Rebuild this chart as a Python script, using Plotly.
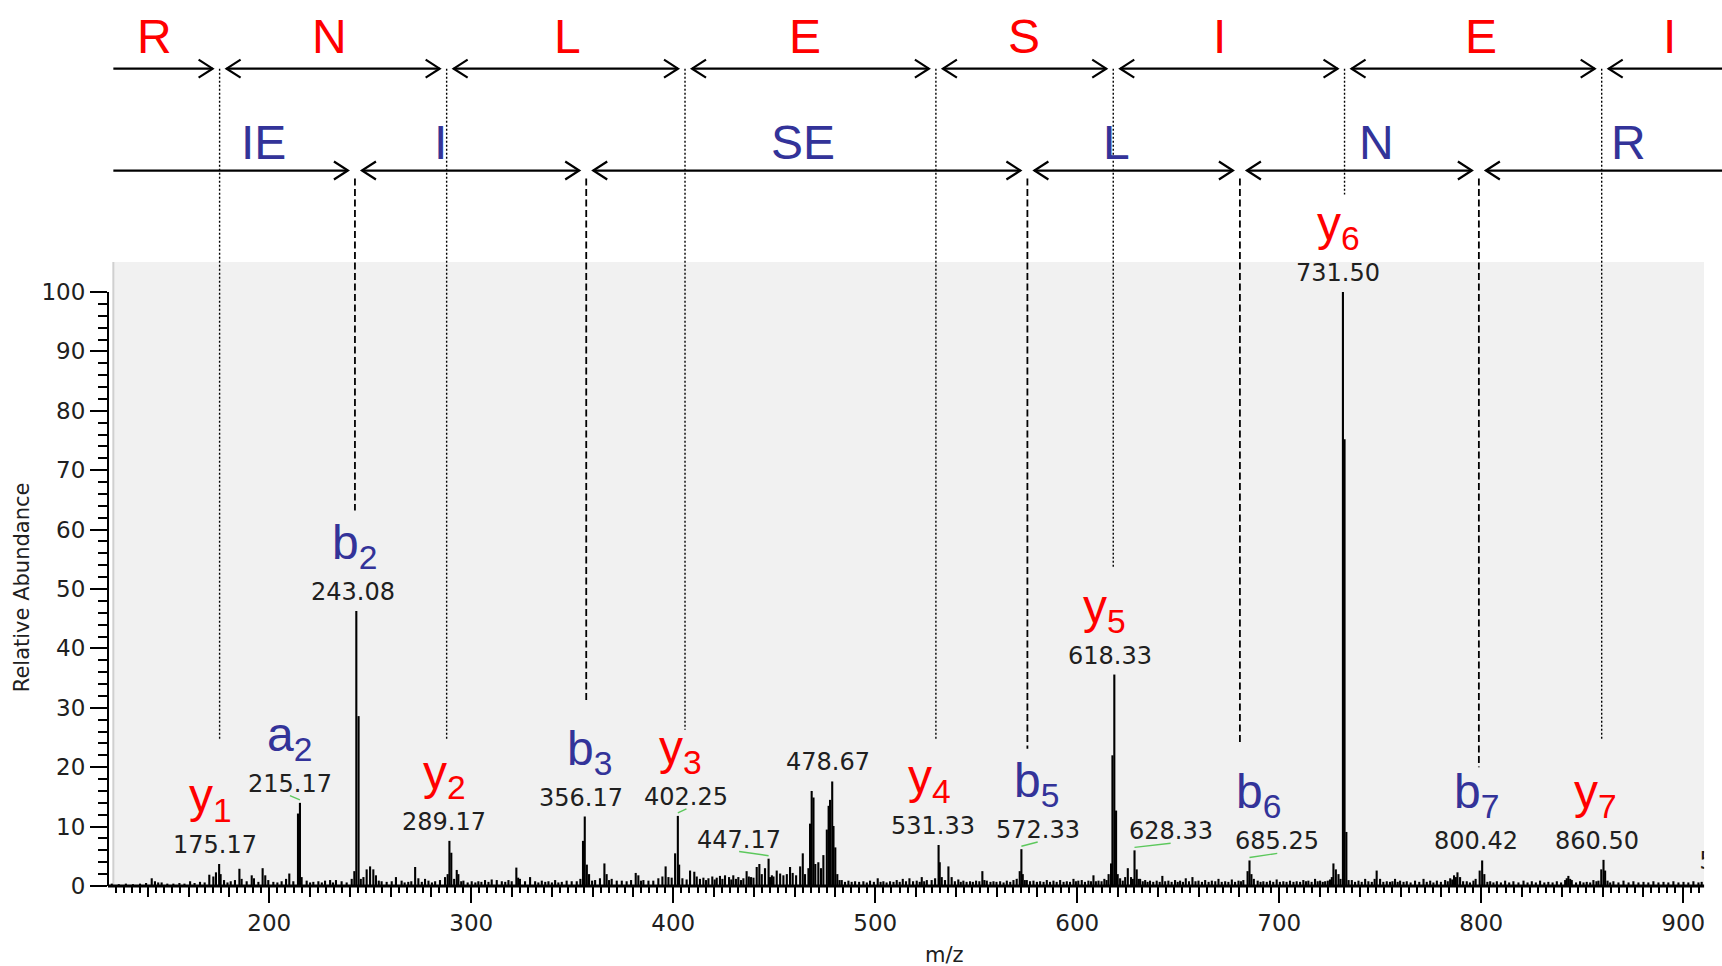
import plotly.graph_objects as go

# ---------------- data ----------------
# stick spectrum: m/z and relative abundance (%)
peak_mz = [122.0, 125.5, 129.0, 132.5, 136.0, 139.0, 141.8, 143.4, 145.0, 146.7, 149.5, 152.5, 155.5, 158.0,
           160.8, 163.0, 165.7, 168.0, 170.3, 172.3, 173.6, 175.17, 175.9, 177.6, 179.3, 180.9, 183.0, 185.2,
           186.3, 188.8, 191.3, 192.4, 194.6, 196.7, 198.0, 199.5, 202.0, 204.0, 206.1, 208.3, 209.9, 211.9,
           214.2, 215.17, 216.0, 218.5, 220.2, 221.8, 224.3, 226.0, 227.6, 230.1, 231.5, 233.0, 235.8, 238.3,
           240.8, 242.1, 243.08, 244.2, 245.3, 246.6, 248.2, 249.9, 251.5, 252.8, 254.2, 255.6, 258.1, 260.6,
           262.7, 265.5, 267.0, 268.8, 270.3, 272.2, 273.8, 275.5, 277.1, 278.8, 280.5, 282.1, 284.5, 287.0,
           288.3, 289.17, 290.1, 291.5, 292.8, 293.6, 295.0, 296.1, 298.2, 300.2, 302.0, 303.5, 305.0, 306.8,
           308.5, 310.1, 312.6, 315.1, 316.8, 318.4, 320.0, 322.3, 323.2, 324.1, 326.6, 329.1, 331.6, 333.2,
           334.9, 336.6, 338.2, 339.9, 341.5, 343.1, 344.8, 347.2, 349.7, 352.2, 354.0, 355.3, 356.17, 357.2,
           358.3, 359.8, 361.3, 363.7, 365.9, 367.0, 368.2, 369.5, 372.0, 374.5, 376.9, 379.1, 381.4, 382.7,
           384.0, 385.2, 387.7, 390.1, 392.6, 394.6, 396.2, 397.6, 399.2, 400.9, 402.25, 402.9, 404.5, 406.6,
           408.3, 410.4, 411.6, 413.2, 414.9, 416.2, 417.4, 419.3, 420.5, 421.5, 423.1, 424.3, 425.6, 427.6,
           428.7, 429.7, 431.0, 432.2, 433.5, 434.7, 436.3, 437.4, 438.5, 439.7, 441.3, 442.6, 443.8, 445.4,
           447.17, 447.9, 448.8, 449.6, 451.2, 452.9, 454.5, 456.2, 457.8, 459.1, 460.8, 462.8, 464.1, 465.2,
           466.9, 467.7, 468.5, 469.4, 470.3, 471.8, 473.1, 474.3, 476.0, 476.9, 477.6, 478.67, 479.3, 480.2,
           481.2, 482.3, 483.4, 485.0, 486.7, 488.3, 490.0, 492.0, 494.1, 495.8, 497.4, 499.3, 501.2, 502.6,
           504.0, 505.6, 507.3, 509.0, 510.6, 512.1, 513.6, 515.2, 516.9, 518.7, 520.5, 522.0, 523.0, 524.2,
           525.5, 527.9, 529.6, 531.33, 531.9, 532.9, 534.5, 536.2, 537.8, 539.4, 541.1, 542.3, 543.6, 545.2,
           546.9, 548.3, 549.9, 551.5, 553.0, 554.0, 555.2, 557.0, 558.5, 560.0, 561.8, 563.5, 565.1, 566.8,
           568.4, 570.0, 571.5, 572.33, 573.0, 574.0, 575.0, 576.6, 578.3, 580.0, 581.6, 583.3, 584.9, 586.5,
           588.2, 589.8, 591.5, 593.2, 594.8, 596.4, 598.1, 599.3, 600.5, 602.2, 603.8, 605.5, 606.8, 608.0,
           609.2, 610.5, 612.0, 613.4, 614.5, 615.5, 616.7, 617.4, 618.33, 619.2, 620.0, 621.2, 622.5, 623.7,
           625.0, 626.6, 627.5, 628.33, 629.4, 630.3, 631.1, 632.4, 633.6, 634.8, 636.0, 637.6, 639.3, 640.8,
           642.1, 643.5, 645.1, 646.7, 648.4, 649.7, 650.9, 652.3, 653.7, 655.3, 657.0, 658.5, 660.0, 661.7,
           663.3, 665.0, 666.6, 668.3, 669.9, 671.5, 673.2, 674.8, 676.5, 678.1, 679.8, 681.0, 682.2, 684.3,
           685.25, 686.2, 687.4, 689.3, 690.7, 692.1, 693.8, 695.4, 697.0, 698.7, 700.3, 702.0, 703.6, 705.3,
           707.0, 708.6, 710.3, 711.9, 713.2, 714.4, 716.0, 717.7, 719.0, 720.2, 721.5, 722.7, 724.0, 725.1,
           726.0, 726.8, 728.0, 729.3, 730.3, 731.5, 732.3, 733.2, 734.3, 735.9, 737.5, 739.2, 740.8, 742.5,
           744.1, 745.8, 747.2, 748.2, 749.9, 751.5, 753.2, 754.8, 756.0, 757.3, 758.6, 759.8, 761.5, 763.1,
           765.0, 767.2, 769.3, 771.4, 773.0, 774.7, 776.3, 778.0, 780.0, 782.1, 783.4, 784.6, 785.6, 786.5,
           787.4, 788.2, 789.5, 791.0, 792.8, 794.4, 796.1, 797.2, 799.2, 800.42, 801.5, 803.0, 804.4, 806.0,
           807.7, 809.7, 811.8, 813.8, 815.9, 818.4, 820.9, 822.9, 825.0, 827.0, 829.1, 831.2, 833.2, 835.3,
           837.4, 839.5, 841.5, 842.3, 843.1, 844.0, 844.8, 846.9, 848.9, 850.6, 852.2, 853.9, 855.5, 857.0,
           858.0, 859.4, 860.5, 861.3, 862.5, 863.8, 865.4, 867.9, 870.4, 872.9, 875.3, 877.8, 880.3, 882.7,
           885.2, 887.7, 890.2, 892.6, 895.1, 897.6, 900.1, 902.5, 905.0, 907.5, 909.1]
peak_int = [0.4, 0.3, 0.4, 0.3, 0.4, 0.5, 1.3, 0.8, 0.6, 0.6, 0.4, 0.4, 0.5, 0.4,
            0.8, 0.5, 0.7, 0.6, 1.9, 1.6, 2.3, 3.7, 2.0, 1.0, 0.6, 0.8, 1.0, 2.9,
            1.2, 0.8, 1.8, 1.3, 0.7, 3.0, 1.8, 1.0, 0.7, 0.6, 0.8, 1.2, 2.1, 0.8,
            12.2, 14.0, 1.5, 0.9, 0.6, 0.7, 0.8, 0.6, 0.9, 1.0, 0.6, 1.0, 0.8, 0.6,
            1.2, 2.5, 46.3, 28.6, 1.2, 1.5, 2.8, 3.3, 2.8, 1.8, 0.9, 0.8, 0.7, 0.8,
            1.5, 0.9, 0.6, 0.7, 0.8, 3.2, 1.3, 0.7, 1.2, 0.9, 0.6, 0.8, 1.0, 1.5,
            2.0, 7.6, 5.6, 1.2, 2.7, 2.0, 0.8, 0.9, 0.6, 0.8, 0.6, 0.8, 0.7, 1.0,
            0.7, 1.1, 1.0, 0.8, 0.7, 1.0, 0.8, 3.1, 1.4, 1.2, 0.8, 1.5, 0.8, 0.6,
            0.9, 0.7, 0.8, 0.6, 1.0, 0.6, 0.7, 0.9, 0.8, 0.8, 1.2, 7.6, 11.7, 3.6,
            2.0, 0.9, 1.0, 1.3, 3.8, 2.0, 1.0, 1.2, 0.9, 0.9, 0.8, 1.0, 2.2, 1.8,
            0.9, 1.0, 0.9, 0.9, 1.3, 1.6, 3.3, 1.5, 1.4, 5.5, 11.8, 3.6, 1.3, 1.1,
            2.6, 2.4, 1.6, 1.2, 1.4, 1.0, 1.3, 1.6, 1.1, 1.4, 1.7, 1.2, 1.8, 1.5,
            1.1, 1.8, 1.2, 1.5, 1.0, 1.3, 2.5, 1.6, 1.5, 1.4, 3.2, 3.7, 2.0, 3.0,
            4.6, 1.5, 1.8, 1.6, 2.6, 2.1, 1.8, 2.0, 3.2, 2.2, 1.8, 3.3, 5.5, 2.0,
            3.0, 10.5, 16.0, 14.9, 3.7, 4.0, 3.0, 5.2, 9.5, 13.5, 14.5, 17.6, 10.1, 6.5,
            2.0, 1.0, 1.0, 0.7, 0.9, 0.7, 0.8, 0.7, 0.8, 0.6, 0.9, 0.7, 1.3, 0.7,
            0.8, 0.6, 0.8, 0.7, 1.0, 0.7, 1.2, 0.8, 1.3, 0.8, 0.9, 0.7, 1.5, 0.8,
            1.0, 1.0, 1.3, 6.9, 4.0, 1.5, 1.0, 3.3, 1.5, 0.8, 1.1, 0.7, 0.9, 0.7,
            0.8, 0.7, 0.9, 0.8, 2.5, 1.0, 0.9, 0.7, 0.8, 0.7, 0.8, 0.6, 0.9, 0.7,
            1.0, 1.2, 2.5, 6.2, 2.0, 1.0, 1.0, 0.8, 0.9, 0.7, 0.8, 0.7, 1.0, 0.7,
            0.9, 0.7, 1.0, 0.7, 0.8, 0.7, 1.2, 0.8, 0.9, 1.0, 0.7, 0.9, 0.8, 1.8,
            0.8, 0.9, 0.8, 1.2, 1.0, 2.0, 3.8, 22.0, 35.6, 12.7, 2.0, 1.3, 0.9, 1.5,
            3.0, 1.5, 1.2, 6.0, 2.8, 1.2, 1.2, 0.8, 1.0, 0.7, 0.9, 0.7, 0.9, 0.7,
            1.7, 0.8, 0.9, 0.7, 1.0, 0.7, 0.9, 0.7, 1.3, 0.8, 1.5, 0.8, 0.9, 0.7,
            1.0, 0.7, 0.9, 0.8, 1.2, 0.7, 0.8, 0.7, 1.1, 0.7, 0.9, 0.8, 1.0, 2.5,
            4.3, 2.0, 1.2, 0.9, 0.7, 0.8, 0.7, 0.9, 0.7, 1.1, 0.7, 0.8, 0.7, 0.9,
            0.7, 0.8, 0.7, 1.0, 0.8, 0.9, 0.7, 1.2, 0.8, 0.9, 0.7, 0.8, 0.9, 1.1,
            1.5, 3.8, 2.8, 2.0, 1.2, 100.0, 75.2, 9.1, 1.0, 1.0, 0.7, 0.9, 0.7, 1.2,
            0.8, 0.7, 1.2, 2.6, 1.2, 0.7, 0.8, 0.7, 0.8, 1.2, 0.7, 0.9, 0.7, 0.8,
            0.6, 0.9, 0.7, 1.2, 0.7, 0.9, 0.6, 0.9, 0.7, 1.0, 0.8, 1.3, 1.1, 1.8,
            1.5, 2.3, 1.5, 0.8, 0.8, 0.6, 0.9, 1.2, 2.6, 4.3, 2.0, 0.7, 0.8, 0.6,
            0.8, 0.6, 0.9, 0.6, 0.8, 0.6, 0.9, 0.6, 0.8, 0.6, 0.9, 0.6, 0.7, 0.6,
            0.8, 0.6, 1.0, 1.3, 1.7, 1.2, 1.0, 0.6, 0.8, 0.6, 0.7, 0.6, 1.0, 0.8,
            0.9, 2.8, 4.4, 2.6, 0.9, 0.6, 0.8, 0.6, 0.9, 0.6, 0.8, 0.6, 0.7, 0.6,
            0.8, 0.6, 0.7, 0.6, 0.8, 0.6, 0.7, 0.6, 0.8, 0.6, 0.7]

# annotated peaks
labeled_mz = [175.17, 215.17, 243.08, 289.17, 356.17, 402.25, 447.17, 478.67,
              531.33, 572.33, 618.33, 628.33, 685.25, 731.50, 800.42, 860.50]
label_x = [173.2, 210.2, 241.2, 286.3, 354.3, 406.5, 432.6, 476.6,
           528.8, 580.4, 616.3, 646.2, 699.0, 728.9, 797.4, 857.2]
ion_names = ['y1', 'a2', 'b2', 'y2', 'b3', 'y3', '', '',
             'y4', 'b5', 'y5', '', 'b6', 'y6', 'b7', 'y7']
ion_x = [171.1, 210.2, 242.3, 286.9, 358.6, 403.8, None, None,
         526.6, 579.9, 613.6, None, 689.7, 729.4, 797.4, 856.6]
has_connector = [False, True, False, False, False, True, True, False,
                 False, True, False, True, True, False, False, False]

# sequence ladders (m/z of the boundaries and lower end of guide lines, % units)
y_ladder = [175.4, 287.8, 405.8, 530.0, 617.8, 732.3, 859.6]
y_ladder_end = [24.5, 24.5, 26.3, 24.6, 53.7, 116.4, 24.6]
b_ladder = [242.4, 356.9, 575.3, 680.5, 798.8]
b_ladder_end = [63.2, 31.3, 23.1, 23.7, 20.0]
top_res = ['R', 'N', 'L', 'E', 'S', 'I', 'E', 'I']
top_res_x = [143.4, 229.8, 347.8, 465.1, 573.4, 670.4, 799.7, 893.4]
bot_res = ['IE', 'I', 'SE', 'L', 'N', 'R']
bot_res_x = [197.1, 284.8, 464.2, 619.4, 748.0, 872.7]

x_tick_vals = [200, 300, 400, 500, 600, 700, 800, 900]
x_tick_text = ['200', '300', '400', '500', '600', '700', '800', '900']
y_tick_vals = [0, 10, 20, 30, 40, 50, 60, 70, 80, 90, 100]
y_tick_text = ['0', '10', '20', '30', '40', '50', '60', '70', '80', '90', '100']

# ---------------- layout constants ----------------
W, H = 1722, 966
ML, MB = 108, 80
X_LO, X_HI = 120.15, 919.16
Y_HI = 149.16
PXX = (W - ML) / (X_HI - X_LO)
PXY = (H - MB) / Y_HI
GRAY_X0, GRAY_X1, GRAY_Y1 = 122.8, 910.3, 105.05
TOP_ROW_V, BOT_ROW_V = 137.6, 120.45
TOP_TXT_V, BOT_TXT_V = 143.1, 125.1
DASH_TOP = 119.1
GAP = 7 / PXX
HL = 14 / PXX
HH = 9 / PXY

RED = '#ff0000'
BLUE = '#333399'
GREEN = '#5cc85c'
NUMFONT = 'DejaVu Sans'
LETFONT = 'Liberation Sans, Arial, sans-serif'


def intensity_at(m):
    i = min(range(len(peak_mz)), key=lambda k: abs(peak_mz[k] - m))
    return peak_int[i]


fig = go.Figure()

# spectrum sticks
sx, sy = [], []
for m, v in zip(peak_mz, peak_int):
    sx += [m, m, None]
    sy += [0, v, None]
fig.add_trace(go.Scatter(x=sx, y=sy, mode='lines', line=dict(color='black', width=2.1),
                         hoverinfo='skip', showlegend=False))

# guide lines
gx, gy = [], []
for m, e in zip(y_ladder, y_ladder_end):
    gx += [m, m, None]
    gy += [TOP_ROW_V, e, None]
fig.add_trace(go.Scatter(x=gx, y=gy, mode='lines', line=dict(color='black', width=1.4, dash='2px,2px'),
                         hoverinfo='skip', showlegend=False))
dx, dy = [], []
for m, e in zip(b_ladder, b_ladder_end):
    dx += [m, m, None]
    dy += [DASH_TOP, e, None]
fig.add_trace(go.Scatter(x=dx, y=dy, mode='lines', line=dict(color='black', width=1.8, dash='7px,3.5px'),
                         hoverinfo='skip', showlegend=False))


def ladder(bounds, v):
    ax, ay = [], []
    edges = [GRAY_X0] + list(bounds) + [X_HI]
    n = len(edges) - 1
    for i in range(n):
        a, b = edges[i], edges[i + 1]
        left = a + GAP if i > 0 else a
        right = b - GAP if i < n - 1 else b
        ax += [left, right, None]
        ay += [v, v, None]
        if i > 0:
            ax += [left + HL, left, left + HL, None]
            ay += [v + HH, v, v - HH, None]
        if i < n - 1:
            ax += [right - HL, right, right - HL, None]
            ay += [v + HH, v, v - HH, None]
    return ax, ay


for bounds, v in ((y_ladder, TOP_ROW_V), (b_ladder, BOT_ROW_V)):
    ax_, ay_ = ladder(bounds, v)
    fig.add_trace(go.Scatter(x=ax_, y=ay_, mode='lines', line=dict(color='black', width=2.2),
                             hoverinfo='skip', showlegend=False))

# green label connectors (on the overlay axis that carries the fine ticks)
cx, cy = [], []
for m, lx, c in zip(labeled_mz, label_x, has_connector):
    if c:
        v = intensity_at(m)
        cx += [m, lx, None]
        cy += [v + 0.5, v + 1.2, None]
fig.add_trace(go.Scatter(x=cx, y=cy, mode='lines', line=dict(color=GREEN, width=1.4),
                         xaxis='x2', yaxis='y', hoverinfo='skip', showlegend=False))

# clipped label at the right border
fig.add_trace(go.Scatter(x=[911.7], y=[3.8], mode='text', text=['5'], textposition='middle center',
                         textfont=dict(family=NUMFONT, size=24, color='#202020'),
                         hoverinfo='skip', showlegend=False))

annotations = []
for m, lx, ion, ix in zip(labeled_mz, label_x, ion_names, ion_x):
    v = intensity_at(m)
    annotations.append(dict(x=lx, y=v, xref='x', yref='y', text=f'{m:.2f}', showarrow=False,
                            xanchor='center', yanchor='middle', yshift=19,
                            font=dict(family=NUMFONT, size=24, color='#202020')))
    if ion:
        col = RED if ion[0] == 'y' else BLUE
        annotations.append(dict(x=ix, y=v, xref='x', yref='y',
                                text=f'{ion[0]}<sub>{ion[1:]}</sub>', showarrow=False,
                                xanchor='center', yanchor='middle', yshift=19 + 46,
                                font=dict(family=LETFONT, size=48, color=col)))
for r, x in zip(top_res, top_res_x):
    annotations.append(dict(x=x, y=TOP_TXT_V, xref='x', yref='y', text=r, showarrow=False,
                            xanchor='center', yanchor='middle',
                            font=dict(family=LETFONT, size=48, color=RED)))
for r, x in zip(bot_res, bot_res_x):
    annotations.append(dict(x=x, y=BOT_TXT_V, xref='x', yref='y', text=r, showarrow=False,
                            xanchor='center', yanchor='middle',
                            font=dict(family=LETFONT, size=48, color=BLUE)))
annotations.append(dict(x=(22 - ML) / (W - ML), y=50.3, xref='paper', yref='y', text='Relative Abundance',
                        textangle=-90, showarrow=False, xanchor='center', yanchor='middle',
                        font=dict(family=NUMFONT, size=21, color='#202020')))
annotations.append(dict(x=534.3, y=((H - MB) - 955.4) / (H - MB), xref='x', yref='paper', text='m/z',
                        showarrow=False, xanchor='center', yanchor='middle',
                        font=dict(family=NUMFONT, size=21, color='#202020')))

shapes = [
    dict(type='rect', xref='x', yref='y', x0=GRAY_X0, x1=GRAY_X1, y0=0, y1=GRAY_Y1,
         fillcolor='#f1f1f1', line=dict(width=0), layer='below'),
    dict(type='line', xref='x', yref='y', x0=GRAY_X0, x1=GRAY_X0, y0=0, y1=GRAY_Y1,
         line=dict(color='#d0d0d0', width=2), layer='below'),
    dict(type='rect', xref='x', yref='y', x0=GRAY_X1, x1=X_HI, y0=0, y1=GRAY_Y1,
         fillcolor='white', line=dict(width=0), layer='above'),
    dict(type='line', xref='paper', yref='y', x0=0, x1=0, y0=0, y1=100,
         line=dict(color='black', width=2)),
    dict(type='line', xref='x', yref='paper', x0=X_LO, x1=GRAY_X1, y0=0, y1=0,
         line=dict(color='black', width=3)),
]

x_mid_ticks = [v for v in range(120, 911, 20) if v % 100 != 0]
x_small_ticks = [v for v in range(124, 911, 4) if v % 20 != 0]
y_minor_ticks = [v for v in range(2, 100, 2) if v % 10 != 0]

fig.update_layout(
    width=W, height=H,
    margin=dict(l=ML, r=0, t=0, b=MB, pad=0),
    paper_bgcolor='white', plot_bgcolor='white',
    showlegend=False,
    xaxis=dict(range=[X_LO, X_HI], showgrid=False, zeroline=False, showline=False,
               ticks='outside', tickvals=x_tick_vals, ticktext=x_tick_text,
               ticklen=16, tickwidth=2, tickcolor='black',
               tickfont=dict(family=NUMFONT, size=23, color='#202020'),
               minor=dict(tickvals=x_mid_ticks, ticks='outside', ticklen=10, tickwidth=2,
                          tickcolor='black', showgrid=False),
               fixedrange=True),
    xaxis2=dict(overlaying='x', matches='x', anchor='y', side='bottom', showgrid=False, zeroline=False,
                showline=False, ticks='outside', tickvals=x_small_ticks, ticklen=6, tickwidth=1.6,
                tickcolor='black', showticklabels=False, fixedrange=True),
    yaxis=dict(range=[0, Y_HI], showgrid=False, zeroline=False, showline=False,
               ticks='outside', tickvals=y_tick_vals, ticktext=y_tick_text,
               ticklen=17, tickwidth=1.6, tickcolor='black',
               tickfont=dict(family=NUMFONT, size=23, color='#202020'),
               minor=dict(tickvals=y_minor_ticks, ticks='outside', ticklen=9, tickwidth=1.6,
                          tickcolor='black', showgrid=False),
               fixedrange=True),
    shapes=shapes,
    annotations=annotations,
)

fig.write_html("out.html", config={'displayModeBar': False},
               post_script="document.body.style.margin='0';document.body.style.overflow='hidden';")
